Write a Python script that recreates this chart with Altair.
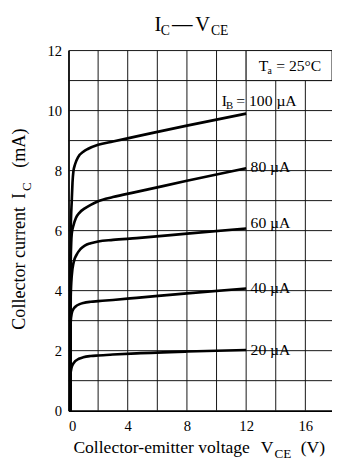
import altair as alt
import pandas as pd

# ---- data ----
ib_names = ["20", "40", "60", "80", "100"]
vce_20 = [0.12, 0.13, 0.2, 0.3, 0.45, 0.7, 1.0, 1.5, 2.0, 3.0, 4.6, 8.0, 12.0]
ic_20 = [0.0, 1.2, 1.42, 1.55, 1.65, 1.73, 1.78, 1.82, 1.84, 1.87, 1.91, 1.97, 2.02]
vce_40 = [0.12, 0.14, 0.22, 0.35, 0.5, 0.75, 1.0, 1.5, 2.0, 3.0, 4.6, 8.0, 12.0]
ic_40 = [0.0, 2.9, 3.25, 3.4, 3.48, 3.55, 3.59, 3.63, 3.65, 3.69, 3.76, 3.91, 4.07]
vce_60 = [0.12, 0.15, 0.22, 0.35, 0.55, 0.8, 1.1, 1.5, 2.0, 3.0, 4.6, 8.0, 12.0]
ic_60 = [0.0, 3.8, 4.5, 4.95, 5.2, 5.38, 5.5, 5.58, 5.64, 5.69, 5.75, 5.9, 6.07]
vce_80 = [0.12, 0.15, 0.22, 0.35, 0.5, 0.75, 1.1, 1.5, 2.0, 3.0, 4.6, 8.0, 12.0]
ic_80 = [0.0, 5.0, 5.9, 6.2, 6.42, 6.6, 6.74, 6.86, 6.98, 7.12, 7.29, 7.66, 8.08]
vce_100 = [0.12, 0.15, 0.22, 0.27, 0.33, 0.45, 0.66, 1.0, 1.3, 2.0, 3.0, 4.6, 8.0, 12.0]
ic_100 = [0.0, 6.0, 7.0, 7.6, 7.97, 8.22, 8.46, 8.63, 8.72, 8.86, 8.97, 9.14, 9.5, 9.9]

curve_labels = ["80 µA", "60 µA", "40 µA", "20 µA"]
curve_label_y = [8.12, 6.25, 4.1, 2.02]
curve_label_x = [12.3, 12.3, 12.3, 12.3]

x_ticks = [0, 4, 8, 12, 16]
y_ticks = [0, 2, 4, 6, 8, 10, 12]
x_grid = [2, 4, 6, 8, 10, 12, 14, 16]
y_grid = [1, 2, 3, 4, 5, 6, 7, 8, 9, 10, 11, 12]
x_domain = [0, 17.8]
y_domain = [0, 12]

FONT = "Liberation Serif"

rows = []
for name, xs_, ys_ in zip(ib_names,
                          [vce_20, vce_40, vce_60, vce_80, vce_100],
                          [ic_20, ic_40, ic_60, ic_80, ic_100]):
    for i, (a, b) in enumerate(zip(xs_, ys_)):
        rows.append({"ib": name, "vce": a, "ic": b, "idx": i})
curves = pd.DataFrame(rows)

xs = alt.Scale(domain=x_domain, nice=False, zero=False)
ys = alt.Scale(domain=y_domain, nice=False, zero=False)

x_axis = alt.Axis(values=x_ticks, grid=False, ticks=False, tickSize=0,
                  labelFont=FONT, labelFontSize=15, labelColor="black",
                  labelPadding=8, title=None, format="d")
y_axis = alt.Axis(values=y_ticks, grid=False, ticks=False, tickSize=0,
                  labelFont=FONT, labelFontSize=15, labelColor="black",
                  labelPadding=7, title=None, format="d")

vgrid = alt.Chart(pd.DataFrame({"g": x_grid})).mark_rule(
    color="#111", strokeWidth=1).encode(x=alt.X("g:Q", scale=xs, axis=x_axis))
hgrid = alt.Chart(pd.DataFrame({"g": y_grid})).mark_rule(
    color="#111", strokeWidth=1).encode(y=alt.Y("g:Q", scale=ys, axis=y_axis))

lines = alt.Chart(curves).mark_line(color="black", strokeWidth=2.7,
                                    interpolate="monotone").encode(
    x=alt.X("vce:Q", scale=xs),
    y=alt.Y("ic:Q", scale=ys),
    detail="ib:N",
    order="idx:Q",
)

# Ta box
box_df = pd.DataFrame({"x1": [12], "x2": [17.8], "y1": [11], "y2": [12]})
box = alt.Chart(box_df).mark_rect(fill="white", stroke="#111", strokeWidth=1).encode(
    x=alt.X("x1:Q", scale=xs), x2="x2:Q",
    y=alt.Y("y1:Q", scale=ys), y2="y2:Q",
)


def data_text(txt, x, y, size, dx=0, dy=0, baseline="alphabetic"):
    df = pd.DataFrame({"t": [txt], "x": [x], "y": [y]})
    return alt.Chart(df).mark_text(font=FONT, fontSize=size, color="black",
                                   align="left", baseline=baseline,
                                   dx=dx, dy=dy).encode(
        x=alt.X("x:Q", scale=xs),
        y=alt.Y("y:Q", scale=ys), text="t:N")


def px_text(txt, x, y, size, angle=0):
    df = pd.DataFrame({"t": [txt]})
    kw = dict(font=FONT, fontSize=size, color="black", align="left",
              baseline="alphabetic")
    if angle:
        kw["angle"] = angle
    return alt.Chart(df).mark_text(**kw).encode(
        x=alt.value(x), y=alt.value(y), text="t:N")


lab_df = pd.DataFrame({"t": curve_labels, "x": curve_label_x, "y": curve_label_y})
labels = alt.Chart(lab_df).mark_text(font=FONT, fontSize=16, color="black",
                                     align="left", baseline="middle").encode(
    x=alt.X("x:Q", scale=xs),
    y=alt.Y("y:Q", scale=ys), text="t:N")

layers = [
    vgrid, hgrid, box, lines, labels,
    # Ta = 25°C
    data_text("T", 12.85, 11.33, 16),
    data_text("a", 12.85, 11.33, 10, dx=9, dy=3),
    data_text("= 25°C", 12.85, 11.33, 16, dx=18),
    # IB = 100 µA
    data_text("I", 10.35, 10.15, 16),
    data_text("B", 10.35, 10.15, 11, dx=4.5, dy=3),
    data_text("= 100 µA", 10.35, 10.15, 16, dx=15),
    # chart title
    px_text("I", 88, -20, 21),
    px_text("C", 94.5, -16, 14),
    px_text("—", 106, -20, 21),
    px_text("V", 130, -20, 21),
    px_text("CE", 146, -16, 14),
    # x axis title
    px_text("Collector-emitter voltage", 5, 412, 18),
    px_text("V", 197, 412, 18),
    px_text("CE", 211, 417, 13.5),
    px_text("(V)", 238, 412, 18),
    # y axis title
    px_text("Collector current", -45, 286, 18.5, angle=270),
    px_text("I", -45, 152, 18.5, angle=270),
    px_text("C", -38, 144, 13.5, angle=270),
    px_text("(mA)", -45, 120, 18.5, angle=270),
]

chart = alt.layer(*layers).properties(
    width=270, height=369,
    padding={"left": 62, "top": 38, "right": 0, "bottom": 48},
    autosize=alt.AutoSizeParams(type="none"),
    background="white",
).configure_view(strokeWidth=0).configure_axis(
    labelFont=FONT, labelFontSize=15, labelColor="black",
    grid=False, ticks=False, tickSize=0, title=None,
    domainColor="black", domainWidth=1.8,
)

chart.save("out.html", embed_options={"renderer": "svg", "actions": False})
